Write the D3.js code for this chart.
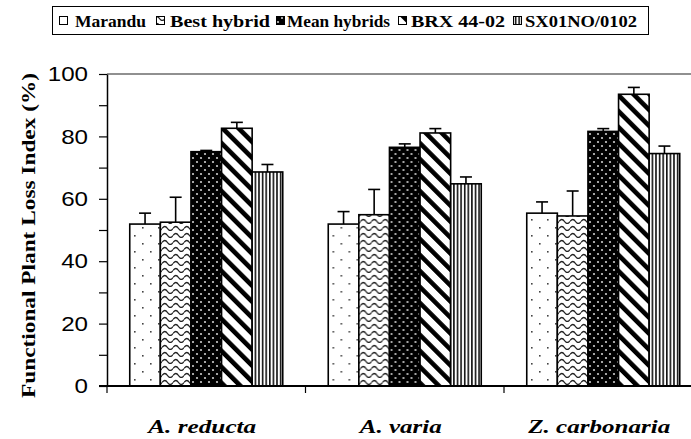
<!DOCTYPE html>
<html>
<head>
<meta charset="utf-8">
<script src="https://cdn.jsdelivr.net/npm/d3@7"></script>
<style>
body { margin: 0; background: #fff; }
</style>
</head>
<body>
<script>
// values
var groups = ["A. reducta", "A. varia", "Z. carbonaria"]
var series = ["Marandu", "Best hybrid", "Mean hybrids", "BRX 44-02", "SX01NO/0102"]
var marandu = [51.9, 51.9, 55.4]
var maranduErr = [3.5, 4.0, 3.6]
var bestHybrid = [52.5, 54.9, 54.5]
var bestHybridErr = [8.0, 8.1, 8.0]
var meanHybrids = [75.1, 76.5, 81.6]
var meanHybridsErr = [0.4, 1.1, 0.9]
var brx = [82.6, 81.1, 93.5]
var brxErr = [1.9, 1.4, 2.2]
var sx = [68.6, 64.8, 74.5]
var sxErr = [2.4, 2.2, 2.4]
var yTicks = [0, 10, 20, 30, 40, 50, 60, 70, 80, 90, 100]

var values = [marandu, bestHybrid, meanHybrids, brx, sx]
var errors = [maranduErr, bestHybridErr, meanHybridsErr, brxErr, sxErr]
var patternIds = ["pMarandu", "pBest", "pMean", "pBrx", "pSx"]

var W = 691, H = 439
var plotLeft = 107, plotTop = 74, plotBottom = 386, plotRight = 702.5

var svg = d3.select("body").append("svg")
    .attr("width", W).attr("height", H)
    .style("display", "block")

// fill patterns
var defs = svg.append("defs")
var p = defs.append("pattern").attr("id", "pMarandu").attr("patternUnits", "userSpaceOnUse")
    .attr("width", 16).attr("height", 16)
p.append("rect").attr("width", 16).attr("height", 16).attr("fill", "#fff")
p.append("rect").attr("x", 3).attr("y", 3).attr("width", 1.6).attr("height", 1.6).attr("fill", "#444")
p.append("rect").attr("x", 11).attr("y", 11).attr("width", 1.6).attr("height", 1.6).attr("fill", "#444")

p = defs.append("pattern").attr("id", "pBest").attr("patternUnits", "userSpaceOnUse")
    .attr("width", 11).attr("height", 7)
p.append("rect").attr("width", 11).attr("height", 7).attr("fill", "#fff")
p.append("path").attr("d", "M0,4.5 Q2.75,0.5 5.5,4.5 T11,4.5")
    .attr("fill", "none").attr("stroke", "#222").attr("stroke-width", 1.3)

p = defs.append("pattern").attr("id", "pMean").attr("patternUnits", "userSpaceOnUse")
    .attr("width", 8).attr("height", 8)
p.append("rect").attr("width", 8).attr("height", 8).attr("fill", "#000")
p.append("circle").attr("cx", 2).attr("cy", 2).attr("r", 1.1).attr("fill", "#ccc")
p.append("circle").attr("cx", 6).attr("cy", 6).attr("r", 1.1).attr("fill", "#ccc")

p = defs.append("pattern").attr("id", "pBrx").attr("patternUnits", "userSpaceOnUse")
    .attr("width", 11.3).attr("height", 11.3).attr("patternTransform", "rotate(-45)")
p.append("rect").attr("width", 11.3).attr("height", 11.3).attr("fill", "#fff")
p.append("rect").attr("width", 4.6).attr("height", 11.3).attr("fill", "#000")

p = defs.append("pattern").attr("id", "pSx").attr("patternUnits", "userSpaceOnUse")
    .attr("width", 3.6).attr("height", 10)
p.append("rect").attr("width", 3.6).attr("height", 10).attr("fill", "#fff")
p.append("rect").attr("width", 1.6).attr("height", 10).attr("fill", "#111")

// scales
var x = d3.scaleBand().domain(groups).range([plotLeft, plotRight])
var pad = 22.75
var xs = d3.scaleBand().domain(series).range([pad, x.bandwidth() - pad])
var y = d3.scaleLinear().domain([0, 100]).range([plotBottom, plotTop])

// top border line
svg.append("line")
    .attr("x1", plotLeft).attr("x2", W).attr("y1", y(100)).attr("y2", y(100))
    .attr("stroke", "#222").attr("stroke-width", 1.2)

// bars
var g = svg.selectAll("g.grp").data(groups).enter().append("g")
    .attr("class", "grp")
    .attr("transform", function(d){ return "translate(" + x(d) + ",0)" })

g.each(function(grp, gi){
  var sel = d3.select(this)
  series.forEach(function(s, si){
    var v = values[si][gi], e = errors[si][gi]
    var cx = xs(s) + xs.bandwidth() / 2
    sel.append("line")
      .attr("x1", cx).attr("x2", cx).attr("y1", y(v)).attr("y2", y(v + e))
      .attr("stroke", "#000").attr("stroke-width", 1.6)
    sel.append("line")
      .attr("x1", cx - 6).attr("x2", cx + 6).attr("y1", y(v + e)).attr("y2", y(v + e))
      .attr("stroke", "#000").attr("stroke-width", 1.6)
    sel.append("rect")
      .attr("x", xs(s)).attr("width", xs.bandwidth())
      .attr("y", y(v)).attr("height", y(0) - y(v))
      .attr("fill", "url(#" + patternIds[si] + ")")
      .attr("stroke", "#000").attr("stroke-width", 1.6)
  })
})

// y axis
var yAxis = svg.append("g")
    .attr("transform", "translate(" + plotLeft + ",0)")
    .call(d3.axisLeft(y).tickValues(yTicks).tickSize(8).tickSizeOuter(0).tickPadding(11)
      .tickFormat(function(d){ return d % 20 === 0 ? d : "" }))
yAxis.select(".domain").attr("stroke", "#000").attr("stroke-width", 1.5)
yAxis.selectAll(".tick line").attr("stroke", "#000").attr("stroke-width", 1.2)
yAxis.selectAll("text")
    .attr("font-family", "'Liberation Sans', Arial, sans-serif")
    .attr("font-size", 21).attr("fill", "#000")
    .each(function(){
      var n = this.getComputedTextLength()
      if (n > 0) d3.select(this).attr("textLength", n * 1.15).attr("lengthAdjust", "spacingAndGlyphs")
    })

// x axis line and group ticks
svg.append("line")
    .attr("x1", plotLeft - 8).attr("x2", W).attr("y1", y(0)).attr("y2", y(0))
    .attr("stroke", "#000").attr("stroke-width", 2)
svg.selectAll("line.xtick").data(groups).enter().append("line")
    .attr("class", "xtick")
    .attr("x1", function(d){ return x(d) }).attr("x2", function(d){ return x(d) })
    .attr("y1", y(0)).attr("y2", y(0) + 7)
    .attr("stroke", "#000").attr("stroke-width", 1.2)

var xLabelLen = [108, 82, 142]
svg.selectAll("text.xlab").data(groups).enter().append("text")
    .attr("class", "xlab")
    .attr("x", function(d){ return x(d) + x.bandwidth() / 2 - 4 })
    .attr("y", 433)
    .attr("text-anchor", "middle")
    .attr("font-family", "'Liberation Serif', 'Times New Roman', serif")
    .attr("font-weight", "bold").attr("font-style", "italic")
    .attr("font-size", 19)
    .attr("textLength", function(d, i){ return xLabelLen[i] })
    .attr("lengthAdjust", "spacingAndGlyphs")
    .text(function(d){ return d })

// y label
svg.append("text")
    .attr("transform", "translate(35," + ((73 + 398) / 2) + ") rotate(-90)")
    .attr("text-anchor", "middle")
    .attr("font-family", "'Liberation Serif', 'Times New Roman', serif")
    .attr("font-weight", "bold").attr("font-size", 18)
    .attr("textLength", 325).attr("lengthAdjust", "spacingAndGlyphs")
    .text("Functional Plant Loss Index (%)")

// legend
var legSym = [59, 156, 276, 398, 513]
var legText = [75, 170, 287, 411, 525]
var legLen = [71, 100, 103, 94, 112]
svg.append("rect")
    .attr("x", 52.5).attr("y", 6.5).attr("width", 596).attr("height", 28)
    .attr("fill", "#fff").attr("stroke", "#000").attr("stroke-width", 1)
var leg = svg.selectAll("g.leg").data(series).enter().append("g").attr("class", "leg")
leg.append("rect")
    .attr("x", function(d, i){ return legSym[i] + 0.5 }).attr("y", 16.5)
    .attr("width", 8).attr("height", 8)
    .attr("fill", function(d, i){ return "url(#" + patternIds[i] + ")" })
    .attr("stroke", "#000").attr("stroke-width", 1)
leg.append("text")
    .attr("x", function(d, i){ return legText[i] }).attr("y", 26.5)
    .attr("font-family", "'Liberation Serif', 'Times New Roman', serif")
    .attr("font-weight", "bold").attr("font-size", 16)
    .attr("textLength", function(d, i){ return legLen[i] })
    .attr("lengthAdjust", "spacingAndGlyphs")
    .text(function(d){ return d })
</script>
</body>
</html>
